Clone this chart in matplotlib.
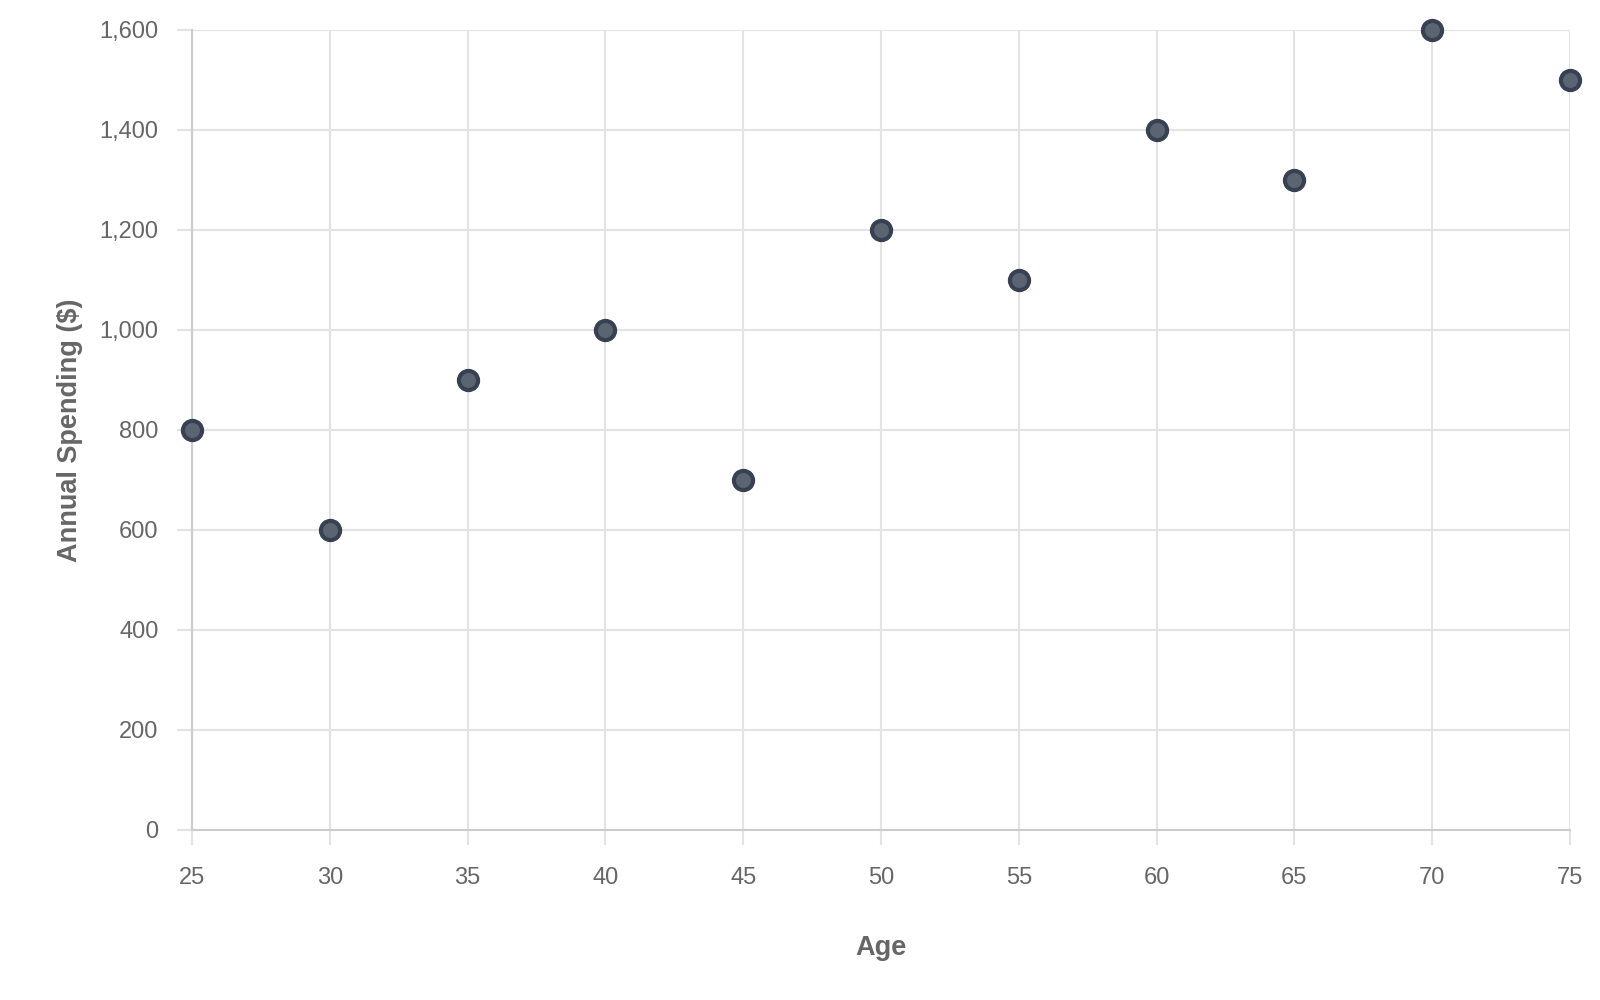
import matplotlib
matplotlib.use("Agg")
from matplotlib import pyplot as plt
from matplotlib.ticker import FuncFormatter

# data
ages = [25, 30, 35, 40, 45, 50, 55, 60, 65, 70, 75]
spending = [800, 600, 900, 1000, 700, 1200, 1100, 1400, 1300, 1600, 1500]
x_ticks = [25, 30, 35, 40, 45, 50, 55, 60, 65, 70, 75]
y_ticks = [0, 200, 400, 600, 800, 1000, 1200, 1400, 1600]

plt.rcParams['font.family'] = ['Liberation Sans', 'DejaVu Sans']

fig = plt.figure(figsize=(16, 10), dpi=100)
ax = fig.add_axes([0.12, 0.17, 0.86125, 0.80])

ax.scatter(ages, spending, s=190, facecolor='#5b6472', edgecolor='#374151',
           linewidth=3, zorder=3, clip_on=False)

ax.set_xlim(25, 75)
ax.set_ylim(0, 1600)
ax.set_xticks(x_ticks)
ax.set_yticks(y_ticks)
ax.yaxis.set_major_formatter(FuncFormatter(lambda v, p: f'{int(v):,}'))

ax.grid(True, color='#e3e3e3', linewidth=1.5, zorder=0)
ax.set_axisbelow(True)
for side in ['top', 'right']:
    ax.spines[side].set_visible(False)
for side in ['left', 'bottom']:
    ax.spines[side].set_color('#cccccc')
    ax.spines[side].set_linewidth(1.5)

ax.tick_params(axis='both', colors='#e3e3e3', labelcolor='#666666',
               labelsize=17, length=11, width=1.5)
ax.tick_params(axis='y', pad=13)
ax.tick_params(axis='x', pad=16)

ax.set_xlabel('Age', fontsize=19.5, fontweight='bold', color='#666666', labelpad=33)
ax.set_ylabel('Annual Spending ($)', fontsize=19.5, fontweight='bold', color='#666666', labelpad=12)

fig.savefig('out.png', dpi=100, facecolor='white')
